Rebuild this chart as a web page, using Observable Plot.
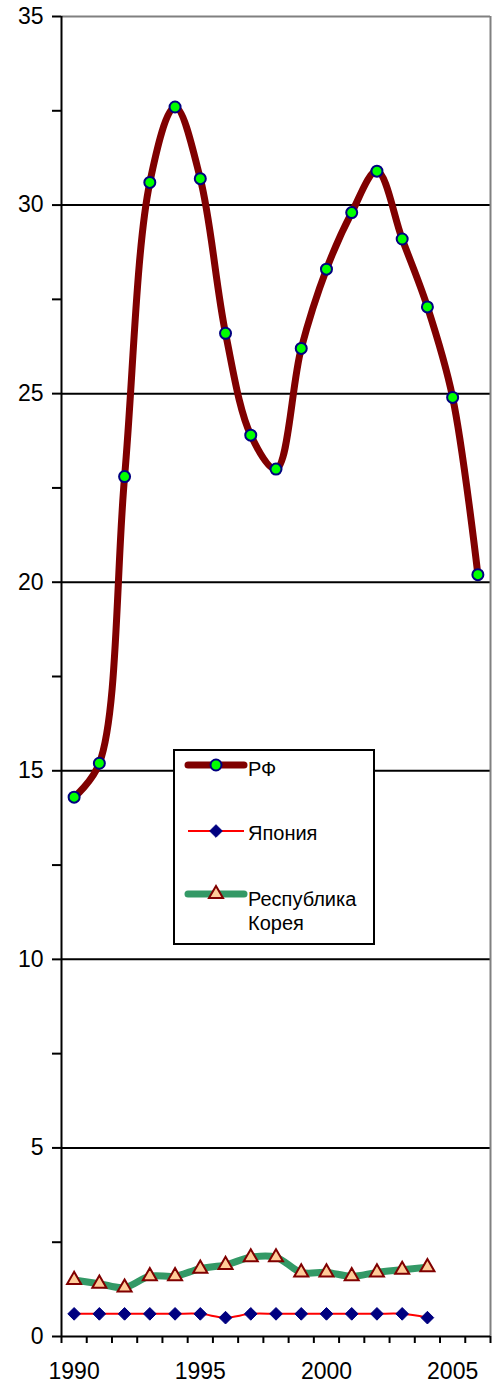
<!DOCTYPE html>
<html><head><meta charset="utf-8">
<script src="https://cdn.jsdelivr.net/npm/d3@7"></script>
<script src="https://cdn.jsdelivr.net/npm/@observablehq/plot@0.6"></script>
<style>
body{margin:0;background:#fff}
#wrap{position:relative;width:494px;height:1383px}
#legend{position:absolute;left:173px;top:749px}
</style>
</head><body><div id="wrap"></div>
<script>
// Categories
const years = [1990,1991,1992,1993,1994,1995,1996,1997,1998,1999,2000,2001,2002,2003,2004,2005,2006];
// Series values
const rf    = [14.3,15.2,22.8,30.6,32.6,30.7,26.6,23.9,23.0,26.2,28.3,29.8,30.9,29.1,27.3,24.9,20.2];
const japan = [0.6,0.6,0.6,0.6,0.6,0.6,0.5,0.6,0.6,0.6,0.6,0.6,0.6,0.6,0.5];
const korea = [1.5,1.4,1.3,1.6,1.6,1.8,1.9,2.1,2.1,1.7,1.7,1.6,1.7,1.77,1.84];
// Series names
const seriesNames = ["РФ", "Япония", "Республика Корея"];
// Tick labels
const yLabels = [0,5,10,15,20,25,30,35];
const yMinor = [2.5,7.5,12.5,17.5,22.5,27.5,32.5];
const xLabels = [1990,1995,2000,2005];
const gridVals = [5,10,15,20,25,30];

const rfData = years.map((x,i)=>({x, y: rf[i]}));
const jpData = japan.map((y,i)=>({x: years[i], y}));
const krData = korea.map((y,i)=>({x: years[i], y}));
const xBounds = [years[0]-0.5, ...years.map(y=>y+0.5)];

const chart = Plot.plot({
  width: 494, height: 1383,
  marginLeft: 61, marginRight: 4, marginTop: 16, marginBottom: 47,
  style: {fontFamily: "'Liberation Sans', Arial, sans-serif", background: "white", color: "black"},
  x: {domain: [years[0]-0.5, years[years.length-1]+0.5], label: null},
  y: {domain: [0, 35], label: null},
  marks: [
    Plot.ruleY(gridVals, {stroke: "black", strokeWidth: 2}),
    Plot.ruleY([35], {stroke: "#808080", strokeWidth: 2}),
    Plot.ruleX([years[years.length-1]+0.5], {stroke: "#808080", strokeWidth: 2}),
    Plot.axisY(yMinor, {tickSize: 9, strokeWidth: 2, tickFormat: () => "", label: null}),
    Plot.axisY(yLabels, {tickSize: 9, tickPadding: 9, strokeWidth: 2, fontSize: 23, label: null}),
    Plot.axisX(xBounds, {tickSize: 7, strokeWidth: 2, tickFormat: () => "", label: null}),
    Plot.axisX(xLabels, {tickSize: 0, tickPadding: 26, fontSize: 23, tickFormat: d => String(d), label: null}),
    Plot.ruleX([years[0]-0.5], {stroke: "black", strokeWidth: 2}),
    Plot.ruleY([0], {stroke: "black", strokeWidth: 2}),
    Plot.line(krData, {x: "x", y: "y", curve: "catmull-rom", stroke: "#339966", strokeWidth: 7}),
    Plot.dot(krData, {x: "x", y: "y", symbol: "triangle", r: 5.2, fill: "#FFCC99", stroke: "#800000", strokeWidth: 2}),
    Plot.line(jpData, {x: "x", y: "y", curve: "catmull-rom", stroke: "#FF0000", strokeWidth: 2}),
    Plot.dot(jpData, {x: "x", y: "y", symbol: "diamond2", r: 5.7, fill: "#000080", stroke: "#000080", strokeWidth: 1}),
    Plot.line(rfData, {x: "x", y: "y", curve: "catmull-rom", stroke: "#800000", strokeWidth: 7}),
    Plot.dot(rfData, {x: "x", y: "y", symbol: "circle", r: 5.5, fill: "#00FF00", stroke: "#000080", strokeWidth: 2})
  ]
});
const wrap = document.getElementById("wrap");
wrap.appendChild(chart);

// Legend overlay
const lg = d3.select(wrap).append("svg").attr("id","legend")
  .attr("width", 203).attr("height", 197)
  .style("font-family", "'Liberation Sans', Arial, sans-serif");
lg.append("rect").attr("x",1).attr("y",1).attr("width",200).attr("height",194)
  .attr("fill","white").attr("stroke","black").attr("stroke-width",2);
// RF
lg.append("line").attr("x1",15).attr("x2",71).attr("y1",16).attr("y2",16)
  .attr("stroke","#800000").attr("stroke-width",7).attr("stroke-linecap","round");
lg.append("circle").attr("cx",43).attr("cy",16).attr("r",5.5)
  .attr("fill","#00FF00").attr("stroke","#000080").attr("stroke-width",2);
lg.append("text").attr("x",75).attr("y",27).attr("font-size",20).text(seriesNames[0]);
// Japan
lg.append("line").attr("x1",15).attr("x2",71).attr("y1",82).attr("y2",82)
  .attr("stroke","#FF0000").attr("stroke-width",2);
lg.append("path").attr("transform","translate(43,82)")
  .attr("d", d3.symbol(d3.symbolDiamond2, Math.PI*5.7*5.7)())
  .attr("fill","#000080").attr("stroke","#000080");
lg.append("text").attr("x",75).attr("y",91).attr("font-size",20).text(seriesNames[1]);
// Korea
lg.append("line").attr("x1",15).attr("x2",71).attr("y1",145).attr("y2",145)
  .attr("stroke","#339966").attr("stroke-width",7).attr("stroke-linecap","round");
lg.append("path").attr("transform","translate(43,145)")
  .attr("d", d3.symbol(d3.symbolTriangle, Math.PI*5.2*5.2)())
  .attr("fill","#FFCC99").attr("stroke","#800000").attr("stroke-width",2);
const kt = lg.append("text").attr("x",75).attr("y",157).attr("font-size",20);
kt.append("tspan").attr("x",75).text(seriesNames[2].split(" ")[0]);
kt.append("tspan").attr("x",75).attr("dy",24).text(seriesNames[2].split(" ")[1]);
</script>
</body></html>
